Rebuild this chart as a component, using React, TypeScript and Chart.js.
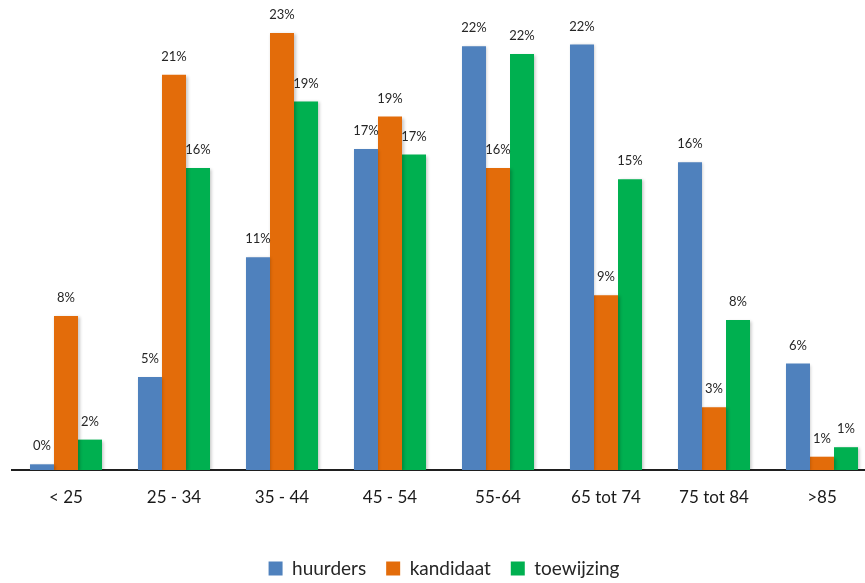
import React, { useEffect, useRef } from "react";
import { Chart, registerables } from "chart.js";

Chart.register(...registerables);

// Age groups on the category axis
const ageGroups = ["< 25", "25 - 34", "35 - 44", "45 - 54", "55-64", "65 tot 74", "75 tot 84", ">85"];

// Share per age group, in percent
const huurders = [0.3, 4.9, 11.2, 16.9, 22.3, 22.4, 16.2, 5.6];
const kandidaat = [8.1, 20.8, 23.0, 18.6, 15.9, 9.2, 3.3, 0.7];
const toewijzing = [1.6, 15.9, 19.4, 16.6, 21.9, 15.3, 7.9, 1.2];

const seriesNames = ["huurders", "kandidaat", "toewijzing"];
const seriesColors = ["#4F81BD", "#E36C0A", "#00B050"];

const FONT = "Lato, 'Open Sans', sans-serif";

// Writes the rounded percentage above every bar
const valueLabels = {
  id: "valueLabels",
  afterDatasetsDraw(chart: any) {
    const ctx = chart.ctx;
    ctx.save();
    ctx.font = `13px ${FONT}`;
    ctx.fillStyle = "#262626";
    ctx.textAlign = "center";
    ctx.textBaseline = "middle";
    chart.data.datasets.forEach((ds: any, di: number) => {
      const meta = chart.getDatasetMeta(di);
      meta.data.forEach((bar: any, i: number) => {
        const v = ds.data[i] as number;
        ctx.fillText(`${Math.round(v)}%`, bar.x, bar.y - 18);
      });
    });
    ctx.restore();
  },
};

// Soft drop shadow behind the bars
const barShadow = {
  id: "barShadow",
  beforeDatasetsDraw(chart: any) {
    const ctx = chart.ctx;
    ctx.save();
    ctx.shadowColor = "rgba(0,0,0,0.22)";
    ctx.shadowBlur = 3;
    ctx.shadowOffsetX = 1.5;
    ctx.shadowOffsetY = 1;
  },
  afterDatasetsDraw(chart: any) {
    chart.ctx.restore();
  },
};

export default function App() {
  const canvasRef = useRef<HTMLCanvasElement | null>(null);

  useEffect(() => {
    if (!canvasRef.current) return;
    const values = [huurders, kandidaat, toewijzing];
    const chart = new Chart(canvasRef.current, {
      type: "bar",
      data: {
        labels: ageGroups,
        datasets: seriesNames.map((name, i) => ({
          label: name,
          data: values[i],
          backgroundColor: seriesColors[i],
          borderWidth: 0,
          categoryPercentage: 0.667,
          barPercentage: 1,
        })),
      },
      options: {
        responsive: false,
        animation: false,
        layout: { padding: { left: 12, right: 4, top: 14, bottom: 0 } },
        scales: {
          x: {
            grid: { display: false, drawTicks: false },
            border: { display: true, color: "#1f1f1f", width: 2 },
            ticks: {
              color: "#1a1a1a",
              font: { family: FONT, size: 17 },
              padding: 17,
            },
            afterFit(scale: any) {
              scale.height = 69;
            },
          },
          y: { display: false, min: 0, max: 24 },
        },
        plugins: {
          legend: {
            position: "bottom",
            labels: {
              boxWidth: 14,
              boxHeight: 14,
              padding: 20,
              color: "#262626",
              font: { family: FONT, size: 19 },
            },
          },
          tooltip: { enabled: false },
        },
      },
      plugins: [barShadow, valueLabels],
    });
    return () => chart.destroy();
  }, []);

  return (
    <div
      style={{
        position: "fixed",
        left: 0,
        top: 0,
        width: 865,
        height: 583,
        overflow: "hidden",
        background: "#ffffff",
      }}
    >
      <canvas ref={canvasRef} width={880} height={588} style={{ display: "block" }} />
    </div>
  );
}
